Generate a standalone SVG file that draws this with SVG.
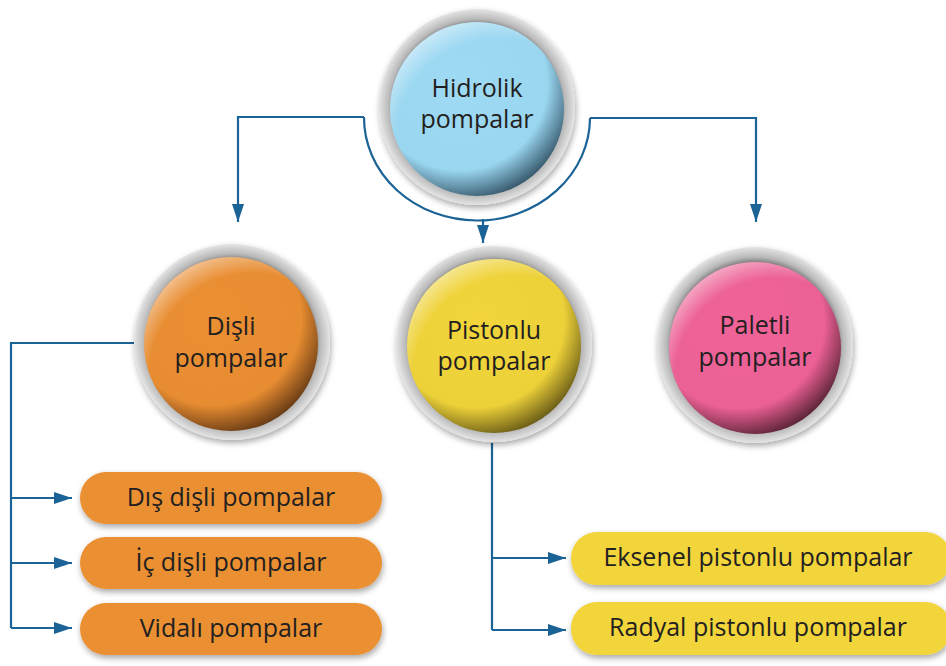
<svg xmlns="http://www.w3.org/2000/svg" width="946" height="666" viewBox="0 0 946 666">
<style>
.lbl{font-family:"Open Sans","Noto Sans","Liberation Sans",sans-serif;fill:#231f20;text-anchor:middle}
.c{font-size:25px}
.p{font-size:25px}
.ln{fill:none;stroke:#1b6396;stroke-width:2.2}
.ring{fill:url(#gRing);filter:url(#sh)}
.hl{fill:url(#gHl)}
</style>
<defs>
<filter id="sh" x="-20%" y="-20%" width="140%" height="140%">
<feGaussianBlur in="SourceAlpha" stdDeviation="3"/>
<feOffset dx="1" dy="3" result="b"/>
<feComponentTransfer><feFuncA type="linear" slope="0.35"/></feComponentTransfer>
<feMerge><feMergeNode/><feMergeNode in="SourceGraphic"/></feMerge>
</filter>
<radialGradient id="gRing" cx="0.5" cy="0.5" r="0.5">
<stop offset="0.84" stop-color="#7d7d7d"/>
<stop offset="0.9" stop-color="#b9b9b9"/>
<stop offset="1" stop-color="#e4e4e4"/>
</radialGradient>
<radialGradient id="gHl" cx="0.62" cy="0.68" r="0.75">
<stop offset="0" stop-color="#fff" stop-opacity="0"/>
<stop offset="0.78" stop-color="#fff" stop-opacity="0"/>
<stop offset="1" stop-color="#fff" stop-opacity="0.55"/>
</radialGradient>
<radialGradient id="gBlue" cx="0.4" cy="0.35" r="0.7">
<stop offset="0" stop-color="#9fdaf4"/>
<stop offset="0.72" stop-color="#9ad6f0"/>
<stop offset="1" stop-color="#2c4b5d"/>
</radialGradient>
<radialGradient id="gOrange" cx="0.4" cy="0.35" r="0.7">
<stop offset="0" stop-color="#eb8f33"/>
<stop offset="0.72" stop-color="#e78c31"/>
<stop offset="1" stop-color="#5a3211"/>
</radialGradient>
<radialGradient id="gYellow" cx="0.4" cy="0.35" r="0.7">
<stop offset="0" stop-color="#f1d53b"/>
<stop offset="0.72" stop-color="#edd139"/>
<stop offset="1" stop-color="#5c5014"/>
</radialGradient>
<radialGradient id="gPink" cx="0.4" cy="0.35" r="0.7">
<stop offset="0" stop-color="#ef6398"/>
<stop offset="0.72" stop-color="#eb6095"/>
<stop offset="1" stop-color="#4c1d2e"/>
</radialGradient>
<marker id="ah" markerUnits="userSpaceOnUse" markerWidth="18" markerHeight="12" refX="18" refY="6" orient="auto">
<path d="M0,0 L18,6 L0,12 z" fill="#1b6396"/>
</marker>
</defs>

<g id="connectors">
<path class="ln" d="M364,117 H238 V222" marker-end="url(#ah)"/>
<path class="ln" d="M364,117 A113 103 0 0 0 590,118"/>
<path class="ln" d="M590,118 H756 V222" marker-end="url(#ah)"/>
<path class="ln" d="M483,219 V243" marker-end="url(#ah)"/>
<path class="ln" d="M134,343 H11 V628"/>
<path class="ln" d="M11,498 H72" marker-end="url(#ah)"/>
<path class="ln" d="M11,563 H72" marker-end="url(#ah)"/>
<path class="ln" d="M11,628 H72" marker-end="url(#ah)"/>
<path class="ln" d="M492,443 V630"/>
<path class="ln" d="M492,558 H566" marker-end="url(#ah)"/>
<path class="ln" d="M492,630 H566" marker-end="url(#ah)"/>
</g>

<g id="hidrolik">
<circle class="ring" cx="477" cy="107" r="98"/>
<circle cx="477" cy="109" r="87" fill="url(#gBlue)"/>
<circle class="hl" cx="477" cy="109" r="87"/>
<text class="lbl c" x="477" y="97">Hidrolik</text>
<text class="lbl c" x="477" y="128">pompalar</text>
</g>

<g id="disli">
<circle class="ring" cx="232" cy="342" r="98"/>
<circle cx="231" cy="344" r="87" fill="url(#gOrange)"/>
<circle class="hl" cx="231" cy="344" r="87"/>
<text class="lbl c" x="231" y="335">Dişli</text>
<text class="lbl c" x="231" y="367">pompalar</text>
</g>

<g id="pistonlu">
<circle class="ring" cx="494" cy="344" r="98"/>
<circle cx="494" cy="346" r="87" fill="url(#gYellow)"/>
<circle class="hl" cx="494" cy="346" r="87"/>
<text class="lbl c" x="494" y="339">Pistonlu</text>
<text class="lbl c" x="494" y="370">pompalar</text>
</g>

<g id="paletli">
<circle class="ring" cx="755" cy="345" r="98"/>
<circle cx="755" cy="348" r="86" fill="url(#gPink)"/>
<circle class="hl" cx="755" cy="348" r="86"/>
<text class="lbl c" x="755" y="334">Paletli</text>
<text class="lbl c" x="755" y="366">pompalar</text>
</g>

<g id="dis-disli">
<rect x="80" y="472" width="302" height="52" rx="26" fill="#eb9033" filter="url(#sh)"/>
<text class="lbl p" x="231" y="506">Dış dişli pompalar</text>
</g>
<g id="ic-disli">
<rect x="80" y="537" width="302" height="52" rx="26" fill="#eb9033" filter="url(#sh)"/>
<text class="lbl p" x="231" y="571">İç dişli pompalar</text>
</g>
<g id="vidali">
<rect x="80" y="603" width="302" height="52" rx="26" fill="#eb9033" filter="url(#sh)"/>
<text class="lbl p" x="231" y="637">Vidalı pompalar</text>
</g>
<g id="eksenel">
<rect x="571" y="532" width="380" height="53" rx="26" fill="#f2d43a" filter="url(#sh)"/>
<text class="lbl p" x="758" y="566">Eksenel pistonlu pompalar</text>
</g>
<g id="radyal">
<rect x="571" y="602" width="380" height="53" rx="26" fill="#f2d43a" filter="url(#sh)"/>
<text class="lbl p" x="758" y="636">Radyal pistonlu pompalar</text>
</g>
</svg>
